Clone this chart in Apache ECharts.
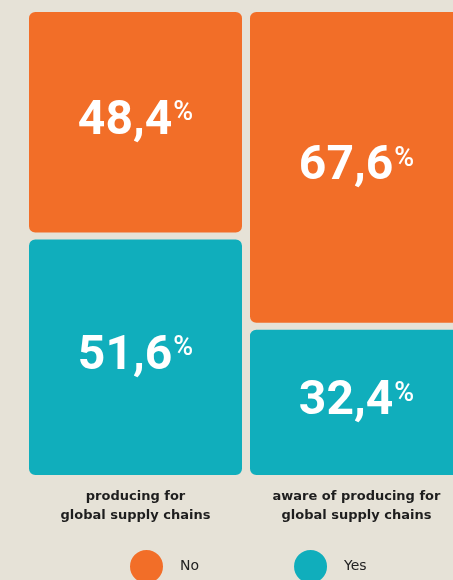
<!DOCTYPE html>
<html>
<head>
<meta charset="utf-8">
<script src="https://cdn.jsdelivr.net/npm/echarts@6/dist/echarts.min.js"></script>
<style>
  html, body { margin: 0; padding: 0; background: #e6e2d7; }
  #chart { width: 453px; height: 580px; }
</style>
</head>
<body>
<div id="chart"></div>
<script>
// Share of respondents, in percent
const categories = ['producing for\nglobal supply chains', 'aware of producing for\nglobal supply chains'];
const noValues = [48.4, 67.6];
const yesValues = [51.6, 32.4];
const seriesNames = ['No', 'Yes'];

const BG = '#e6e2d7';
const ORANGE = '#f26e28';
const TEAL = '#10aebc';

function pctLabel(p) {
  return '{v|' + p.value.toFixed(1).replace('.', ',') + '}{p|%}';
}

const labelStyle = {
  show: true,
  position: 'inside',
  formatter: pctLabel,
  rich: {
    v: { fontFamily: 'Roboto', fontWeight: 700, fontSize: 48, color: '#fff', lineHeight: 50, padding: [0, 1, 0, 0] },
    p: { fontFamily: 'Roboto', fontWeight: 500, fontSize: 27, color: '#fff', lineHeight: 50, verticalAlign: 'top', padding: [3, 0, 0, 0] }
  }
};

const chart = echarts.init(document.getElementById('chart'));
chart.setOption({
  backgroundColor: BG,
  animation: false,
  grid: { left: 25, top: 8.5, width: 442, height: 470, outerBoundsMode: 'none' },
  legend: {
    data: ['No', 'Yes'],
    left: 128,
    top: 548,
    padding: 0,
    icon: 'circle',
    itemWidth: 35,
    itemHeight: 35,
    itemGap: 93,
    textStyle: { fontFamily: 'DejaVu Sans', fontSize: 14, color: '#222', padding: [0, 0, 0, 11] }
  },
  xAxis: {
    type: 'category',
    data: categories,
    axisLine: { show: false },
    axisTick: { show: false },
    axisLabel: {
      margin: 9,
      fontFamily: 'DejaVu Sans',
      fontWeight: 700,
      fontSize: 13,
      lineHeight: 19,
      color: '#1e1e1e',
      interval: 0
    }
  },
  yAxis: {
    type: 'value',
    min: 0,
    max: 100,
    show: false,
    splitLine: { show: false }
  },
  series: [
    {
      name: seriesNames[1],
      type: 'bar',
      stack: 'share',
      data: yesValues,
      barWidth: 220,
      itemStyle: { color: TEAL, borderColor: BG, borderWidth: 3.5, borderRadius: 8 },
      label: labelStyle
    },
    {
      name: seriesNames[0],
      type: 'bar',
      stack: 'share',
      data: noValues,
      barWidth: 220,
      itemStyle: { color: ORANGE, borderColor: BG, borderWidth: 3.5, borderRadius: 8 },
      label: labelStyle
    }
  ]
});
</script>
</body>
</html>
